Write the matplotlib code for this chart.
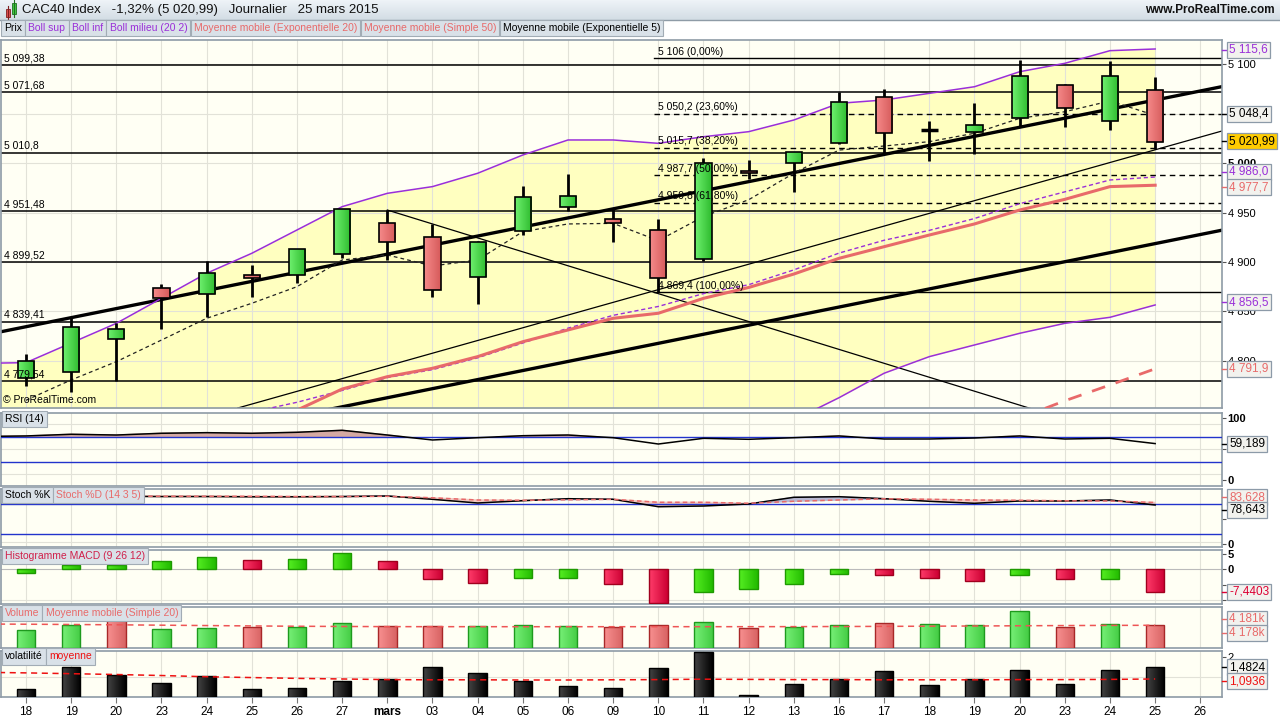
import numpy as np
import matplotlib
matplotlib.use("Agg")
import matplotlib.pyplot as plt
from matplotlib.colors import LinearSegmentedColormap
from matplotlib.patches import Rectangle

plt.rcParams['font.family'] = ['Liberation Sans', 'DejaVu Sans']

# --- données ---
date_labels = ['18', '19', '20', '23', '24', '25', '26', '27', 'mars', '03', '04', '05', '06', '09',
               '10', '11', '12', '13', '16', '17', '18', '19', '20', '23', '24', '25', '26']

opens = [4782.6, 4788.4, 4821.8, 4873.4, 4867.3, 4886.5, 4886.5, 4907.8, 4939.1, 4924.9, 4884.5, 4931.0, 4955.4,
         4943.2, 4932.4, 4902.7, 4992.4, 4999.9, 5020.1, 5066.7, 5033.9, 5031.3, 5045.4, 5079.1, 5042.7, 5074.1]
highs = [4806.9, 4843.0, 4838.6, 4877.7, 4901.3, 4896.6, 4913.5, 4954.0, 4952.6, 4938.1, 4921.0, 4976.9, 4989.1,
         4953.3, 4943.2, 5004.9, 5003.2, 5011.6, 5071.8, 5074.8, 5042.7, 5060.6, 5104.4, 5080.0, 5103.4, 5087.5]
lows = [4774.5, 4768.7, 4779.6, 4832.5, 4844.6, 4864.9, 4879.0, 4904.3, 4902.0, 4864.9, 4857.2, 4927.6, 4951.9,
        4919.9, 4869.4, 4901.5, 4983.7, 4971.2, 5019.0, 5009.0, 5002.6, 5009.0, 5036.3, 5037.0, 5033.6, 5014.1]
closes = [4799.8, 4833.9, 4831.9, 4863.9, 4888.6, 4884.1, 4912.8, 4953.3, 4919.9, 4871.7, 4919.9, 4965.5, 4966.8,
          4939.1, 4883.5, 4999.9, 4989.8, 5011.6, 5061.6, 5030.3, 5033.9, 5038.4, 5088.2, 5055.6, 5088.2, 5020.99]

# bandes de Bollinger (la veille incluse : index -1)
boll_sup = [4797.4, 4798.1, 4818.0, 4837.9, 4863.2, 4888.6, 4908.8, 4932.4, 4956.0, 4969.5, 4976.3, 4989.8, 5008.3,
            5023.5, 5023.5, 5020.1, 5026.8, 5031.9, 5043.7, 5060.6, 5064.0, 5070.7, 5077.4, 5092.6, 5101.1, 5113.9, 5115.6]
boll_mid = [4700, 4708, 4716, 4724, 4733, 4741, 4748, 4758, 4770, 4783, 4791, 4803, 4818,
            4833, 4846, 4855, 4868, 4877, 4892, 4909, 4922, 4932, 4944, 4959, 4971, 4983, 4986.0]
boll_inf = [4603, 4618, 4614, 4610, 4603, 4593, 4587, 4584, 4584, 4596, 4606, 4616, 4628,
            4642, 4668, 4690, 4709, 4722, 4740, 4762.6, 4787.4, 4804.2, 4816.0, 4827.8, 4837.9, 4844.0, 4856.5]

ema20 = [4690, 4700, 4712, 4722, 4733, 4742, 4750, 4771.4, 4783.9, 4792.4, 4804.2, 4819.3, 4831.2,
         4843.0, 4848.1, 4863.2, 4874.2, 4887.8, 4903.7, 4915.5, 4927.3, 4938.5, 4952.6, 4963.4, 4976.3, 4977.7]
sma50 = [np.nan] * 21 + [4726, 4742, 4759.5, 4775.5, 4791.9]
ema5 = [4760, 4780.6, 4799.1, 4821.0, 4843.0, 4858.2, 4875.0, 4902.0, 4907.1, 4896.0, 4902.0, 4930.7, 4938.5,
        4939.1, 4921.6, 4946.0, 4963.0, 4989.8, 5013.3, 5017.4, 5021.8, 5030.3, 5045.4, 5052.1, 5063.0, 5048.4]

supports = [5099.38, 5071.68, 5010.8, 4951.48, 4899.52, 4839.41, 4779.54]
support_labels = ['5 099,38', '5 071,68', '5 010,8', '4 951,48', '4 899,52', '4 839,41', '4 779,54']
fib_levels = [5106, 5050.2, 5015.7, 4987.7, 4959.8, 4869.4]
fib_labels = ['5 106 (0,00%)', '5 050,2 (23,60%)', '5 015,7 (38,20%)', '4 987,7 (50,00%)',
              '4 959,8 (61,80%)', '4 869,4 (100,00%)']

# droites de tendance : (index, prix) début / fin
trend_haut = [(-0.553, 4829.4), (26.48, 5077.5)]
trend_bas = [(-0.553, 4684.1), (26.48, 4932.2)]
trend_fine = [(4.69, 4752.2), (26.48, 5032.6)]
trend_baisse = [(8, 4952.6), (23, 4741.0)]

rsi = [70.6, 71.5, 74.2, 73.0, 75.8, 76.8, 75.8, 77.4, 80.6, 73.0, 65.0, 68.7, 71.9, 73.0,
       68.7, 58.5, 67.7, 66.1, 68.7, 71.5, 66.6, 66.6, 68.2, 71.5, 66.6, 67.7, 59.189]
stoch_k = [95, 96, 96, 95.5, 95.5, 95, 95, 95.5, 96.6, 90, 82.6, 87.2, 91.2, 90, 75.2, 76.6, 80.6,
           94, 95.2, 91.2, 86, 82, 86.6, 86.6, 88.6, 78.643]
stoch_d = [96, 96.5, 96.5, 96, 96, 96, 95.5, 95.5, 96, 93, 88.6, 88, 89, 90, 84, 84, 82,
           86, 88.6, 91, 90, 88.6, 88, 87, 86.6, 83.628]
macd_hist = [-1.1, 1.3, 1.4, 2.5, 3.9, 3.1, 3.4, 5.1, 2.6, -3.0, -4.4, -2.8, -2.8, -4.9, -10.8, -7.3,
             -6.3, -4.7, -1.4, -1.7, -2.7, -3.7, -1.7, -3.3, -3.0, -7.4403]
volume_k = [3300, 4178, 5200, 3430, 3670, 3860, 3860, 4550, 4050, 4050, 4050, 4180, 4050, 3800, 4180,
            4790, 3670, 3860, 4180, 4550, 4360, 4180, 6840, 3860, 4360, 4178]
volume_ma = [4420, 4380, 4330, 4270, 4200, 4130, 4060, 4000, 3960, 3930, 3920, 3920, 3915, 3915, 3915,
             3920, 3920, 3920, 3930, 3950, 3980, 4010, 4050, 4090, 4130, 4160, 4181]
volat = [0.40, 1.49, 1.08, 0.70, 1.03, 0.40, 0.45, 0.82, 0.92, 1.49, 1.18, 0.82, 0.56, 0.45, 1.44,
         2.22, 0.09, 0.66, 0.92, 1.29, 0.61, 0.92, 1.34, 0.66, 1.34, 1.4824]
volat_moy = [1.23, 1.20, 1.16, 1.12, 1.07, 1.01, 0.97, 0.93, 0.90, 0.87, 0.86, 0.86, 0.85, 0.85, 0.86,
             0.87, 0.89, 0.88, 0.87, 0.87, 0.86, 0.86, 0.86, 0.87, 0.87, 0.88, 0.90]

# --- couleurs ---
BG = '#FFFFF4'
BAND = '#FFFFC0'
PURPLE = '#9A2FD8'
SALMON = '#E86A6A'
GRID = '#E2E2D8'
FRAME = '#8E9BA6'
BLUE = '#2233CC'
BOX_FC = '#D9E1E8'
BOX_EC = '#A2ACB5'

W, H = 1280, 720
fig = plt.figure(figsize=(12.8, 7.2), dpi=100)
fig.patch.set_facecolor('white')

idx = np.arange(26)
idx_prev = np.arange(-1, 26)
XL = (-0.553, 26.48)


def panel(top, bottom, left=1, right=1222):
    ax = fig.add_axes([left / W, 1 - bottom / H, (right - left) / W, (bottom - top) / H])
    ax.set_facecolor(BG)
    for s in ax.spines.values():
        s.set_color(FRAME)
        s.set_linewidth(1.2)
    ax.set_xticks(range(27))
    ax.grid(axis='x', color=GRID, lw=0.8, zorder=0)
    ax.tick_params(axis='x', length=0, labelbottom=False)
    ax.yaxis.tick_right()
    ax.tick_params(axis='y', length=3, color='#555555', labelsize=8, pad=1)
    ax.set_axisbelow(True)
    return ax


def grad_bar(ax, x, bottom, height, width, c1, c2, ec, lw=1.0, z=3):
    rect = ax.bar(x, height, bottom=bottom, width=width, color='none', edgecolor=ec, lw=lw, zorder=z + 0.1)[0]
    cmap = LinearSegmentedColormap.from_list('g', [c1, c2])
    im = ax.imshow(np.linspace(0, 1, 32).reshape(1, -1), cmap=cmap, aspect='auto', zorder=z,
                   extent=[x - width / 2, x + width / 2, bottom, bottom + height], interpolation='bilinear')
    im.set_clip_path(rect)


def label_boxes(ax, items, y=0.985):
    prev = None
    for txt, col in items:
        kw = dict(fontsize=7.5, color=col, va='top', zorder=10,
                  bbox=dict(boxstyle='square,pad=0.3', fc=BOX_FC, ec=BOX_EC, lw=0.8))
        if prev is None:
            prev = ax.text(0.003, y, txt, transform=ax.transAxes, ha='left', **kw)
        else:
            prev = ax.annotate(txt, xy=(1, 1), xycoords=prev, xytext=(4.6, 0),
                               textcoords='offset points', ha='left', **kw)


# ================= graphique principal =================
ax = panel(40, 408)
ax.fill_between(idx_prev, boll_inf, boll_sup, color=BAND, zorder=0.5, lw=0)
price_ticks = list(range(4800, 5101, 50))
ax.set_yticks(price_ticks)
# 5 050 est caché par la valeur de la MM 5
ax.set_yticklabels(['' if v == 5050 else f'{v:,}'.replace(',', ' ') for v in price_ticks])
for t in ax.get_yticklabels():
    if t.get_text() == '5 000':
        t.set_fontweight('bold')
ax.grid(axis='y', color=GRID, lw=0.8, zorder=0.6)
ax.grid(axis='x', color=GRID, lw=0.8, zorder=0.6)

for lvl, lab in zip(supports, support_labels):
    ax.axhline(lvl, color='black', lw=1.1, zorder=2)
    ax.text(-0.48, lvl + 2.0, lab, fontsize=7.5, va='bottom', ha='left', zorder=6)
for lvl, lab in zip(fib_levels, fib_labels):
    ls = '-' if lab.endswith('(0,00%)') or lab.endswith('(100,00%)') else (0, (4, 3))
    ax.plot([13.9, XL[1]], [lvl, lvl], color='black', lw=1.0, ls=ls, zorder=2)
    ax.text(14.0, lvl + 1.5, lab, fontsize=7.5, va='bottom', ha='left', zorder=6)

for (x0, y0), (x1, y1), lw in [(trend_haut[0], trend_haut[1], 2.4), (trend_bas[0], trend_bas[1], 2.4),
                               (trend_fine[0], trend_fine[1], 0.9), (trend_baisse[0], trend_baisse[1], 0.9)]:
    ax.plot([x0, x1], [y0, y1], color='black', lw=lw, zorder=2.5)

ax.plot(idx_prev, boll_sup, color=PURPLE, lw=1.1, zorder=3)
ax.plot(idx_prev, boll_inf, color=PURPLE, lw=1.1, zorder=3)
ax.plot(idx_prev, boll_mid, color=PURPLE, lw=1.0, ls=(0, (3, 2)), zorder=3)
ax.plot(idx, ema20, color=SALMON, lw=2.2, zorder=3)
ax.plot(idx, sma50, color=SALMON, lw=2.0, ls=(0, (5, 4)), zorder=3)
ax.plot(idx, ema5, color='#222222', lw=0.9, ls=(0, (3, 2.5)), zorder=3)

for i in idx:
    o, h, l, c = opens[i], highs[i], lows[i], closes[i]
    ax.vlines(i, l, h, color='black', lw=2.0, zorder=4)
    if abs(c - o) < 0.5:
        ax.hlines(c, i - 0.19, i + 0.19, color='black', lw=2.5, zorder=5)
    elif c > o:
        grad_bar(ax, i, o, c - o, 0.36, '#6EF06E', '#2EBB2E', 'black', 1.2, 5)
    else:
        grad_bar(ax, i, o, c - o, 0.36, '#F58A8A', '#D65A5A', 'black', 1.2, 5)

ax.text(0.002, 0.008, '© ProRealTime.com', transform=ax.transAxes, fontsize=7.5, va='bottom', zorder=6)
ax.set_xlim(*XL)
ax.set_ylim(4752.2, 5124.7)

# ================= RSI =================
ax_rsi = panel(412.7, 486)
ax_rsi.plot(idx_prev, rsi, color='black', lw=1.1, zorder=4)
r = np.array(rsi)
ax_rsi.fill_between(idx_prev, 70, r, where=r > 70, interpolate=True, color='#D5A9A2', zorder=2)
ax_rsi.axhline(70, color=BLUE, lw=1.0, zorder=3)
ax_rsi.axhline(30, color=BLUE, lw=1.0, zorder=3)
for lv in (50, 90, 10):
    ax_rsi.axhline(lv, color=GRID, lw=0.8, zorder=0.5)
ax_rsi.set_yticks([0, 50, 100])
ax_rsi.set_yticklabels(['0', '', '100'], fontweight='bold')
ax_rsi.set_xlim(*XL)
ax_rsi.set_ylim(-9.2, 109)
label_boxes(ax_rsi, [('RSI (14)', 'black')])

# ================= Stochastique =================
ax_st = panel(489.3, 546.7)
k = np.array(stoch_k)
d = np.array(stoch_d)
ax_st.fill_between(idx, k, d, where=d >= k, interpolate=True, color='#F3C9C2', zorder=2)
ax_st.fill_between(idx, k, d, where=k > d, interpolate=True, color='#B9B9D2', zorder=2)
ax_st.plot(idx, k, color='black', lw=1.1, zorder=4)
ax_st.plot(idx, d, color=SALMON, lw=1.1, ls=(0, (3, 2)), zorder=4)
ax_st.axhline(80, color=BLUE, lw=1.0, zorder=3)
ax_st.axhline(20, color=BLUE, lw=1.0, zorder=3)
ax_st.axhline(5, color=GRID, lw=0.8, zorder=0.5)
ax_st.set_yticks([0, 50])
ax_st.set_yticklabels(['0', ''], fontweight='bold')
ax_st.set_xlim(*XL)
ax_st.set_ylim(-4.8, 110)
label_boxes(ax_st, [('Stoch %K', 'black'), ('Stoch %D (14 3 5)', SALMON)])

# ================= MACD =================
ax_m = panel(550, 604)
mh = np.array(macd_hist)
rising = np.concatenate([[True], np.diff(mh) >= 0])
for i in idx:
    if rising[i]:
        grad_bar(ax_m, i, 0, mh[i], 0.41, '#55EE22', '#22BB00', '#1E9A00', 1.0, 3)
    else:
        grad_bar(ax_m, i, 0, mh[i], 0.41, '#FF3C6A', '#CC0033', '#A0001E', 1.0, 3)
ax_m.axhline(0, color='#BBBBBB', lw=0.8, zorder=1)
ax_m.axhline(-10, color=GRID, lw=0.8, zorder=0.5)
ax_m.set_yticks([5, 0, -5, -10])
ax_m.set_yticklabels(['5', '0', '', ''], fontweight='bold')
ax_m.set_xlim(*XL)
ax_m.set_ylim(-11.2, 6.2)
label_boxes(ax_m, [('Histogramme MACD (9 26 12)', '#D0204A')])

# ================= Volume =================
ax_v = panel(607.3, 648.3)
cl = np.array(closes)
up = np.concatenate([[True], np.diff(cl) >= 0])
for i in idx:
    if up[i]:
        grad_bar(ax_v, i, 0, volume_k[i], 0.41, '#77F077', '#44CC44', '#1E9A1E', 1.0, 3)
    else:
        grad_bar(ax_v, i, 0, volume_k[i], 0.41, '#F89090', '#D86464', '#A82828', 1.0, 3)
ax_v.plot(idx_prev, volume_ma, color='#EE5555', lw=1.1, ls=(0, (4, 3)), zorder=4)
ax_v.set_yticks([])
ax_v.set_xlim(*XL)
ax_v.set_ylim(-112, 7535)
label_boxes(ax_v, [('Volume', SALMON), ('Moyenne mobile (Simple 20)', SALMON)])

# ================= Volatilité =================
ax_vo = panel(650.7, 697.3)
for i in idx:
    grad_bar(ax_vo, i, 0, volat[i], 0.41, '#444444', '#000000', '#000000', 1.0, 3)
ax_vo.plot(idx_prev, volat_moy, color='#EE1111', lw=1.1, ls=(0, (4, 3)), zorder=4)
ax_vo.axhline(1.0, color=GRID, lw=0.8, zorder=0.5)
ax_vo.set_yticks([2])
ax_vo.set_yticklabels(['2'])
ax_vo.set_xlim(*XL)
ax_vo.set_ylim(0, 2.29)
label_boxes(ax_vo, [('volatilité', 'black'), ('moyenne', '#EE1111')])
ax_vo.tick_params(axis='x', length=4, color='#777777', labelbottom=True, labelsize=8.5, pad=2)
ax_vo.set_xticklabels(date_labels)
for t in ax_vo.get_xticklabels():
    if t.get_text() == 'mars':
        t.set_fontweight('bold')

# ================= en-tête et légende =================
ax_h = fig.add_axes([0, 1 - 20 / H, 1, 20 / H])
ax_h.imshow(np.linspace(0, 1, 20).reshape(-1, 1), cmap=LinearSegmentedColormap.from_list('h', ['#EEF3F7', '#D3DDE5']),
            aspect='auto', extent=[0, 1, 0, 1])
ax_h.set_axis_off()
ax_h.add_patch(Rectangle((0.0043, 0.15), 0.0035, 0.42, fc='#E05050', ec='#802020', lw=0.6, transform=ax_h.transAxes))
ax_h.add_patch(Rectangle((0.0093, 0.30), 0.0035, 0.55, fc='#40CC40', ec='#207020', lw=0.6, transform=ax_h.transAxes))
ax_h.plot([0.0060, 0.0060], [0.05, 0.72], color='#802020', lw=0.8, transform=ax_h.transAxes)
ax_h.plot([0.0110, 0.0110], [0.15, 0.98], color='#207020', lw=0.8, transform=ax_h.transAxes)
fig.text(22 / W, 1 - 10 / H, 'CAC40 Index   -1,32% (5 020,99)   Journalier   25 mars 2015',
         fontsize=9.5, va='center', ha='left', color='#111111')
fig.text(1275 / W, 1 - 10 / H, 'www.ProRealTime.com', fontsize=8.5, va='center', ha='right',
         fontweight='bold', color='#111111')
fig.add_artist(plt.Line2D([0, 1], [1 - 20 / H, 1 - 20 / H], color=FRAME, lw=1, transform=fig.transFigure))

legend_items = [('Prix', 'black'), ('Boll sup', PURPLE), ('Boll inf', PURPLE), ('Boll milieu (20 2)', PURPLE),
                ('Moyenne mobile (Exponentielle 20)', SALMON), ('Moyenne mobile (Simple 50)', SALMON),
                ('Moyenne mobile (Exponentielle 5)', 'black')]
renderer = fig.canvas.get_renderer()
x_px = 4
for txt, col in legend_items:
    t = fig.text(x_px / W, 1 - 28 / H, txt, fontsize=7.5, color=col, va='center', ha='left', zorder=10,
                 bbox=dict(boxstyle='square,pad=0.3', fc=BOX_FC, ec=BOX_EC, lw=0.8))
    x_px += t.get_window_extent(renderer).width + 6.5

# --- valeurs à droite ---
value_boxes = [(50, '5 115,6', PURPLE, '#F2F2EE'), (114, '5 048,4', 'black', '#F2F2EE'),
               (141, '5 020,99', 'black', '#FFCC00'), (172, '4 986,0', PURPLE, '#F2F2EE'),
               (187, '4 977,7', SALMON, '#F2F2EE'), (302, '4 856,5', PURPLE, '#F2F2EE'),
               (369, '4 791,9', SALMON, '#F2F2EE'), (444, '59,189', 'black', '#F2F2EE'),
               (497, '83,628', SALMON, '#F2F2EE'), (510, '78,643', 'black', '#F2F2EE'),
               (592, '-7,4403', '#DD0033', '#F2F2EE'), (619, '4 181k', SALMON, '#F2F2EE'),
               (633, '4 178k', SALMON, '#F2F2EE'), (667, '1,4824', 'black', '#F2F2EE'),
               (681, '1,0936', '#EE1111', '#F2F2EE')]
for y, txt, col, fc in value_boxes:
    fig.add_artist(plt.Line2D([1222 / W, 1227 / W], [1 - y / H, 1 - y / H], color=col, lw=1,
                              transform=fig.transFigure))
    fig.text(1229 / W, 1 - y / H, txt, fontsize=8.5, color=col, va='center', ha='left', zorder=12,
             bbox=dict(boxstyle='square,pad=0.18', fc=fc, ec='#8C9AA8', lw=0.9))

fig.savefig('out.png', dpi=100, facecolor='white')
